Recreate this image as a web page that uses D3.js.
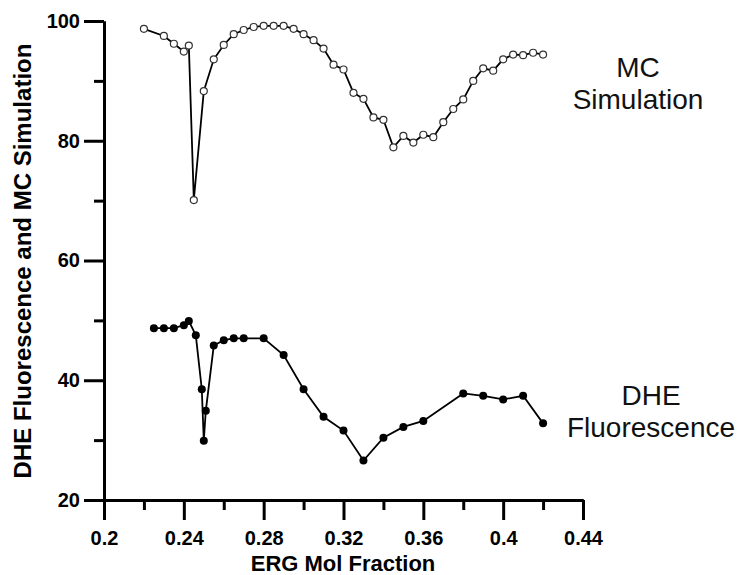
<!DOCTYPE html>
<html lang="en">
<head>
  <meta charset="UTF-8">
  <title></title>
  <style>
    html, body {
      margin: 0;
      overflow: hidden;
      width: 100%;
      height: 100%;
      background: #fff;
    }
    svg {
      position: absolute;
      top: 0;
      left: 0;
      background: #fff;
    }
    text {
      font-family: "Liberation Sans", Arial, sans-serif;
    }
  </style>
</head>
<body>
  <svg width="737" height="575"></svg>
</body>
<script src="https://d3js.org/d3.v7.min.js"></script>
<script type="text/javascript">
  // MC simulation (open circles)
  const mcX = [0.22, 0.23, 0.235, 0.24, 0.2425, 0.245, 0.25, 0.255, 0.26, 0.265,
    0.27, 0.275, 0.28, 0.285, 0.29, 0.295, 0.30, 0.305, 0.31, 0.315,
    0.32, 0.325, 0.33, 0.335, 0.34, 0.345, 0.35, 0.355, 0.36, 0.365,
    0.37, 0.375, 0.38, 0.385, 0.39, 0.395, 0.40, 0.405, 0.41, 0.415, 0.42]
  const mcY = [98.7, 97.5, 96.2, 94.9, 95.9, 70.1, 88.3, 93.6, 96.0, 97.8,
    98.5, 99.0, 99.2, 99.2, 99.2, 98.7, 97.8, 96.8, 95.4, 92.7,
    91.9, 88.0, 87.0, 83.9, 83.5, 78.9, 80.8, 79.7, 81.0, 80.6,
    83.1, 85.3, 86.9, 90.0, 92.1, 91.7, 93.6, 94.4, 94.3, 94.7, 94.4]

  // DHE fluorescence (filled dots)
  const dheX = [0.225, 0.23, 0.235, 0.24, 0.2425, 0.246, 0.249, 0.25, 0.251, 0.255,
    0.26, 0.265, 0.27, 0.28, 0.29, 0.30, 0.31, 0.32, 0.33, 0.34,
    0.35, 0.36, 0.38, 0.39, 0.40, 0.41, 0.42]
  const dheY = [48.7, 48.7, 48.7, 49.2, 49.9, 47.5, 38.5, 29.9, 34.9, 45.8,
    46.7, 47.0, 47.0, 47.0, 44.2, 38.5, 33.9, 31.6, 26.6, 30.4,
    32.2, 33.2, 37.8, 37.4, 36.8, 37.4, 32.8]

  const xMajor = [0.2, 0.24, 0.28, 0.32, 0.36, 0.4, 0.44]
  const xMinor = [0.22, 0.26, 0.30, 0.34, 0.38, 0.42]
  const yMajor = [20, 40, 60, 80, 100]
  const yMinor = [30, 50, 70, 90]

  const svg = d3.select('svg')

  const x = d3.scaleLinear().domain([0.2, 0.44]).range([104, 583])
  const y = d3.scaleLinear().domain([20, 100]).range([500, 21])

  const fmtX = d => d3.format('~g')(+d.toFixed(2))

  // minor ticks first
  svg.append('g')
    .attr('transform', `translate(0,${y(20)})`)
    .call(d3.axisBottom(x).tickValues(xMinor).tickSize(10).tickSizeOuter(0).tickFormat(''))
  svg.append('g')
    .attr('transform', `translate(${x(0.2)},0)`)
    .call(d3.axisLeft(y).tickValues(yMinor).tickSize(10).tickSizeOuter(0).tickFormat(''))

  // major ticks with labels
  svg.append('g')
    .attr('transform', `translate(0,${y(20)})`)
    .call(d3.axisBottom(x).tickValues(xMajor).tickSize(20).tickSizeOuter(0)
      .tickPadding(11).tickFormat(fmtX))
  svg.append('g')
    .attr('transform', `translate(${x(0.2)},0)`)
    .call(d3.axisLeft(y).tickValues(yMajor).tickSize(20).tickSizeOuter(0).tickPadding(4))

  svg.selectAll('.domain, .tick line')
    .attr('stroke', '#000')
    .attr('stroke-width', 3)
  svg.selectAll('.tick text')
    .attr('fill', '#000')
    .style('font-size', '20px')
    .style('font-weight', 'bold')

  // axis titles
  svg.append('text')
    .attr('x', 343)
    .attr('y', 571)
    .attr('text-anchor', 'middle')
    .style('font-size', '22px')
    .style('font-weight', 'bold')
    .text('ERG Mol Fraction')

  svg.append('text')
    .attr('transform', 'translate(31,261) rotate(-90)')
    .attr('text-anchor', 'middle')
    .style('font-size', '24px')
    .style('font-weight', 'bold')
    .text('DHE Fluorescence and MC Simulation')

  const line = d3.line()
    .x(d => x(d[0]))
    .y(d => y(d[1]))

  const mc = mcX.map((v, i) => [v, mcY[i]])
  const dhe = dheX.map((v, i) => [v, dheY[i]])

  svg.append('path')
    .datum(mc)
    .attr('d', line)
    .attr('fill', 'none')
    .attr('stroke', '#000')
    .attr('stroke-width', 1.8)

  svg.append('g')
    .selectAll('circle')
    .data(mc)
    .enter().append('circle')
      .attr('cx', d => x(d[0]))
      .attr('cy', d => y(d[1]))
      .attr('r', 3.5)
      .attr('fill', '#fff')
      .attr('stroke', '#333')
      .attr('stroke-width', 1.2)

  svg.append('path')
    .datum(dhe)
    .attr('d', line)
    .attr('fill', 'none')
    .attr('stroke', '#000')
    .attr('stroke-width', 1.8)

  svg.append('g')
    .selectAll('circle')
    .data(dhe)
    .enter().append('circle')
      .attr('cx', d => x(d[0]))
      .attr('cy', d => y(d[1]))
      .attr('r', 4)
      .attr('fill', '#000')

  // series labels
  const label = (lines, cx, y0) => {
    const t = svg.append('text')
      .attr('text-anchor', 'middle')
      .style('font-size', '28px')
      .attr('fill', '#111')
    lines.forEach((s, i) => {
      t.append('tspan').attr('x', cx).attr('y', y0 + i * 32).text(s)
    })
  }
  label(['MC', 'Simulation'], 638, 77)
  label(['DHE', 'Fluorescence'], 651, 405)
</script>
</html>
